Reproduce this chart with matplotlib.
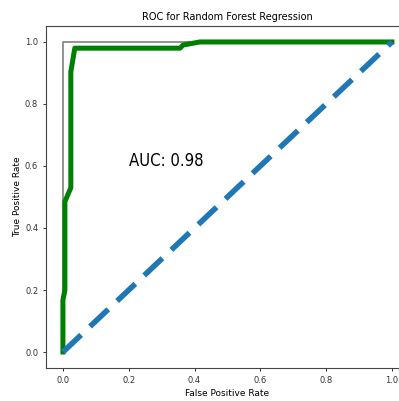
import matplotlib
matplotlib.use('Agg')
import matplotlib.pyplot as plt

# ROC points
fpr = [0.0, 0.0, 0.006, 0.006, 0.024, 0.024, 0.036, 0.356, 0.365, 0.416, 1.0]
tpr = [0.0, 0.168, 0.20, 0.485, 0.53, 0.904, 0.98, 0.98, 0.99, 1.0, 1.0]

perfect_x = [0, 0, 1]
perfect_y = [0, 1, 1]

chance = [0, 1]
auc = 0.98

fig = plt.figure(figsize=(3.99, 4.01), dpi=100)
ax = fig.add_axes([0.1165, 0.0835, 0.907, 0.8505])

ax.plot(perfect_x, perfect_y, color='gray', lw=1.2)
ax.plot(fpr, tpr, color='green', lw=3.6)
ax.plot(chance, chance, color='#1f77b4', lw=4, ls='--', dashes=(4.5, 2.2))

ax.set_xlim(-0.05, 1.05)
ax.set_ylim(-0.05, 1.05)
ax.set_title('ROC for Random Forest Regression', fontsize=7, pad=5)
ax.set_xlabel('False Positive Rate', fontsize=6.5, labelpad=3)
ax.set_ylabel('True Positive Rate', fontsize=6.5, labelpad=2)
ax.tick_params(labelsize=6, length=2.5, width=0.7, colors='#333333')
for s in ax.spines.values():
    s.set_color('#444444')
ax.text(0.2, 0.6, 'AUC: %.2f' % auc, fontsize=12, family='DejaVu Sans', stretch='condensed')

plt.savefig('out.png', dpi=100)
